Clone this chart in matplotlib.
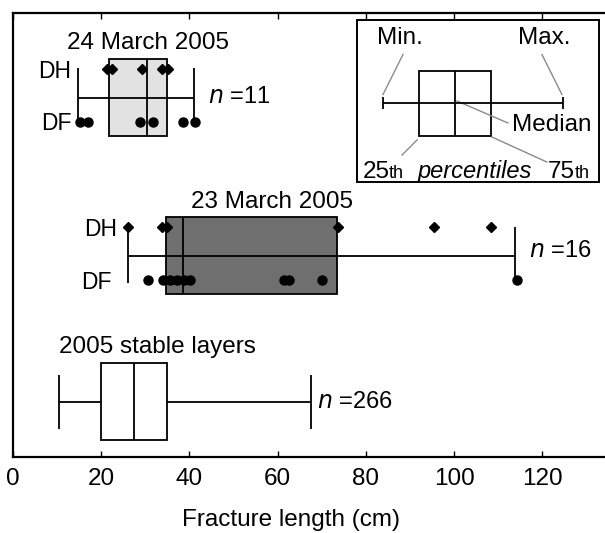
import matplotlib
matplotlib.use("Agg")
import matplotlib.pyplot as plt
from matplotlib.patches import Rectangle
from matplotlib.transforms import ScaledTranslation

plt.rcParams['font.family'] = ['Liberation Sans', 'DejaVu Sans']

# ---------------- data ----------------
groups = ["24 March 2005", "23 March 2005", "2005 stable layers"]
n_labels = ["11", "16", "266"]
# box statistics: min, q1, median, q3, max
stat_min = [14.7, 26.1, 10.4]
stat_q1 = [21.8, 34.7, 20.0]
stat_med = [30.4, 38.5, 27.4]
stat_q3 = [34.9, 73.5, 34.9]
stat_max = [41.0, 113.8, 67.6]

dh_24 = [21.3, 22.4, 29.3, 33.8, 35.1]
df_24 = [15.2, 17.0, 28.8, 31.7, 38.5, 41.3]
dh_23 = [26.1, 33.8, 34.9, 73.7, 95.5, 108.4]
df_23 = [30.6, 34.0, 35.6, 37.2, 38.8, 40.1, 61.5, 62.6, 70.1, 114.3]

xticks = [0, 20, 40, 60, 80, 100, 120]
xlabel = "Fracture length (cm)"

# schematic legend values
sch_vals = [0, 20, 40, 60, 100]

# ---------------- styling ----------------
FS = 17.5
W, H = 605, 533
fig = plt.figure(figsize=(W / 100, H / 100), dpi=100)
ax = fig.add_axes([13 / W, (H - 457) / H, 597 / W, 444 / H])
ax.set_xlim(0, 597 / 4.41)
ax.set_ylim(0, 10)

centers = [8.09, 4.53, 1.24]
half_h = 0.867
box_fc = ["#e2e2e2", "#6f6f6f", "white"]
line_through = [True, True, False]
cap_ext = [(0.68, -0.52), (0.66, -0.6), (0.6, -0.6)]
lw = 1.3

for i in range(3):
    yc = centers[i]
    ax.add_patch(Rectangle((stat_q1[i], yc - half_h), stat_q3[i] - stat_q1[i], 2 * half_h,
                           facecolor=box_fc[i], edgecolor="black", lw=lw, zorder=2))
    ax.vlines(stat_med[i], yc - half_h, yc + half_h, color="black", lw=lw, zorder=3)
    if line_through[i]:
        ax.hlines(yc, stat_min[i], stat_max[i], color="black", lw=lw, zorder=3)
    else:
        ax.hlines(yc, stat_min[i], stat_q1[i], color="black", lw=lw, zorder=3)
        ax.hlines(yc, stat_q3[i], stat_max[i], color="black", lw=lw, zorder=3)
    top, bot = cap_ext[i]
    ax.vlines([stat_min[i], stat_max[i]], yc + bot, yc + top, color="black", lw=lw, zorder=3)

dh_off, df_off = 0.64, -0.54
ms_d, ms_o = 5.2, 6.5
ax.plot(dh_24, [centers[0] + dh_off] * len(dh_24), "D", color="black", ms=ms_d, zorder=4, clip_on=False)
ax.plot(df_24, [centers[0] + df_off] * len(df_24), "o", color="black", ms=ms_o, zorder=4, clip_on=False)
ax.plot(dh_23, [centers[1] + dh_off] * len(dh_23), "D", color="black", ms=ms_d, zorder=4, clip_on=False)
ax.plot(df_23, [centers[1] + df_off] * len(df_23), "o", color="black", ms=ms_o, zorder=4, clip_on=False)

# group titles
ax.text(30.6, 9.32, groups[0], ha="center", va="center", fontsize=FS)
ax.text(58.7, 5.74, groups[1], ha="center", va="center", fontsize=FS)
ax.text(32.7, 2.48, groups[2], ha="center", va="center", fontsize=FS)

# DH / DF labels
ax.text(13.2, centers[0] + dh_off - 0.05, "DH", ha="right", va="center", fontsize=FS - 1)
ax.text(13.2, centers[0] + df_off - 0.05, "DF", ha="right", va="center", fontsize=FS - 1)
ax.text(23.5, centers[1] + dh_off - 0.05, "DH", ha="right", va="center", fontsize=FS - 1)
ax.text(22.3, centers[1] + df_off - 0.05, "DF", ha="right", va="center", fontsize=FS - 1)

# n labels
n_x = [44.2, 117.0, 68.9]
n_y = [centers[0] + 0.02, centers[1] + 0.1, centers[2]]
for i in range(3):
    ax.text(n_x[i], n_y[i], "$\\it{n}$ =" + n_labels[i], ha="left", va="center", fontsize=FS - 0.5)

ax.set_xticks(xticks)
ax.set_xticklabels([str(t) for t in xticks], fontsize=FS)
shift = ScaledTranslation(4 / 100, 0, fig.dpi_scale_trans)
for lab in ax.get_xticklabels():
    lab.set_transform(lab.get_transform() + shift)
ax.set_yticks([])
ax.tick_params(axis="x", direction="in", length=4, width=1, top=True, pad=8)
ax.set_xlabel(xlabel, fontsize=FS)
ax.xaxis.set_label_coords((291 - 13) / 597, -0.143)
ax.xaxis.label.set_va("center")
for s in ["left", "top", "bottom"]:
    ax.spines[s].set_linewidth(1.6)
ax.spines["right"].set_visible(False)

# ---------------- schematic inset ----------------
ix0, iy0, iw, ih = 357, 20, 242, 162
ins = fig.add_axes([ix0 / W, (H - iy0 - ih) / H, iw / W, ih / H])
ins.set_facecolor("white")
ins.set_xlim(-26 / 1.8, (iw - 26) / 1.8)
ins.set_ylim(-(ih - 83.5), 83.5)
ins.set_xticks([])
ins.set_yticks([])
for s in ins.spines.values():
    s.set_linewidth(1.4)
ins.set_zorder(5)

smin, sq1, smed, sq3, smax = sch_vals
bh = 32.5
ins.add_patch(Rectangle((sq1, -bh), sq3 - sq1, 2 * bh, facecolor="white", edgecolor="black", lw=lw, zorder=2))
ins.vlines(smed, -bh, bh, color="black", lw=lw, zorder=3)
ins.hlines(0.5, smin, smax, color="black", lw=lw, zorder=3)
ins.vlines([smin, smax], -5.5, 6.5, color="black", lw=lw, zorder=3)

gray = "#8a8a8a"
ins.text(9.5, 65.5, "Min.", ha="center", va="center", fontsize=FS)
ins.plot([11.1, 0], [49, 9], color=gray, lw=1)
ins.text(89.4, 65.5, "Max.", ha="center", va="center", fontsize=FS)
ins.plot([88.3, 99.4], [49, 9], color=gray, lw=1)
ins.text(71.5, -21.5, "Median", ha="left", va="center", fontsize=FS)
ins.plot([41.1, 69.4], [2.5, -19.5], color=gray, lw=1)
ins.plot([10.6, 18.9], [-51.5, -36.5], color=gray, lw=1)
ins.plot([91.0, 60.5], [-58.5, -33.5], color=gray, lw=1)

yb = -74.5
ins.text(-11.1, yb, "25", ha="left", va="baseline", fontsize=FS)
ins.text(3.3, yb, "th", ha="left", va="baseline", fontsize=13)
ins.text(19.4, yb, "percentiles", ha="left", va="baseline", fontsize=FS - 0.5, style="italic")
ins.text(91.7, yb, "75", ha="left", va="baseline", fontsize=FS)
ins.text(106.4, yb, "th", ha="left", va="baseline", fontsize=13)

fig.savefig("out.png", dpi=100)
